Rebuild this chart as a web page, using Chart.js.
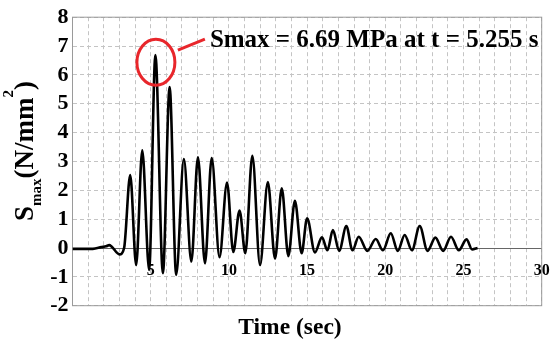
<!DOCTYPE html>
<html>
<head>
<meta charset="utf-8">
<script src="https://cdn.jsdelivr.net/npm/chart.js@4.4.1/dist/chart.umd.min.js"></script>
<style>
  html, body { margin: 0; padding: 0; background: #fff; }
  #wrap { width: 550px; height: 347px; position: relative; }
</style>
</head>
<body>
<div id="wrap"><canvas id="c"></canvas></div>
<script>
// Stress time history, peaks and troughs
const times = [
  0, 1.3, 1.85, 2.15, 2.35, 2.5, 3.0, 3.3,
  3.69, 4.07, 4.46, 4.9, 5.3, 5.78, 6.21, 6.63, 7.12, 7.6, 8.02, 8.47,
  8.9, 9.4, 9.88, 10.28, 10.68, 11.05, 11.5, 11.99, 12.49, 12.95, 13.38, 13.8,
  14.22, 14.65, 15.0, 15.5, 15.95, 16.3, 16.65, 17.05, 17.51, 17.9, 18.3, 18.85,
  19.39, 19.85, 20.35, 20.8, 21.24, 21.7, 22.2, 22.7, 23.2, 23.7, 24.2, 24.7,
  25.19, 25.55, 25.9
];
const stress = [
  -0.03, -0.03, 0.03, 0.06, 0.1, 0.05, -0.22, 0,
  2.53, -0.59, 3.39, -0.76, 6.69, -0.87, 5.58, -0.93, 3.08, -0.47, 3.14, -0.53,
  3.12, -0.32, 2.27, -0.14, 1.3, -0.18, 3.2, -0.59, 2.29, -0.37, 2.07, -0.28,
  1.64, -0.18, 1.03, -0.15, 0.37, -0.08, 0.62, -0.1, 0.76, -0.08, 0.39, -0.1,
  0.31, -0.08, 0.51, -0.1, 0.45, -0.08, 0.76, -0.1, 0.36, -0.1, 0.39, -0.08,
  0.3, -0.05, 0
];
const xTickLabels = [5, 10, 15, 20, 25, 30];
const peakTime = 5.3;
const peakValue = 6.69;
const noteText = 'Smax = 6.69 MPa at t = 5.255 s';

const SERIF = '"Liberation Serif", "Times New Roman", serif';

// frame, axis titles and the red call-out
const decorations = {
  id: 'decorations',
  beforeDatasetsDraw(chart) {
    const { ctx, chartArea: a } = chart;
    ctx.save();
    ctx.strokeStyle = '#9a9a9a';
    ctx.lineWidth = 1;
    ctx.strokeRect(a.left, a.top, a.right - a.left, a.bottom - a.top);
    ctx.restore();
  },
  afterDatasetsDraw(chart) {
    const { ctx, scales } = chart;
    const x = scales.x, y = scales.y;
    ctx.save();

    // red ring round the peak
    const cx = x.getPixelForValue(peakTime) + 0.5;
    const cy = y.getPixelForValue(peakValue - 0.25);
    ctx.strokeStyle = '#e8262b';
    ctx.lineWidth = 3;
    ctx.beginPath();
    ctx.ellipse(cx, cy, 19, 23, 0, 0, Math.PI * 2);
    ctx.stroke();
    ctx.beginPath();
    ctx.moveTo(cx + 22, cy - 12);
    ctx.lineTo(cx + 49, cy - 23);
    ctx.stroke();

    ctx.fillStyle = '#000';
    ctx.font = `bold 25px ${SERIF}`;
    ctx.textBaseline = 'alphabetic';
    ctx.textAlign = 'left';
    ctx.fillText(noteText, cx + 54, cy - 15);

    // x title
    ctx.font = `bold 23.5px ${SERIF}`;
    ctx.textAlign = 'center';
    ctx.fillText('Time (sec)', 290, 334);

    // y title, rotated, with sub and superscript
    ctx.translate(33, 221);
    ctx.rotate(-Math.PI / 2);
    ctx.textAlign = 'left';
    const big = `bold 27px ${SERIF}`, small = `bold 15px ${SERIF}`;
    const parts = [['S', big, 0], ['max', small, 8], ['(N/mm', big, 0], ['2', small, -20], [')', big, 0]];
    let px = 0;
    parts.forEach(([t, f, dy]) => {
      ctx.font = f;
      ctx.fillText(t, px, dy);
      px += ctx.measureText(t).width;
    });
    ctx.restore();
  }
};

new Chart(document.getElementById('c'), {
  type: 'line',
  data: {
    datasets: [{
      data: times.map((t, i) => ({ x: t, y: stress[i] })),
      borderColor: '#000',
      borderWidth: 2.6,
      pointRadius: 0,
      fill: false,
      cubicInterpolationMode: 'monotone'
    }]
  },
  options: {
    responsive: true,
    maintainAspectRatio: false,
    animation: false,
    layout: { padding: { top: 17, right: 8.3, bottom: 41.3, left: 0 } },
    plugins: { legend: { display: false }, tooltip: { enabled: false } },
    scales: {
      x: {
        type: 'linear',
        min: 0, max: 30,
        position: { y: 0 },
        afterFit: s => { s.paddingLeft = 0; s.paddingRight = 0; },
        grid: { color: '#c4c4c4', lineWidth: 1, drawTicks: false },
        border: { color: '#666', width: 1, dash: [4, 3] },
        ticks: {
          stepSize: 1,
          autoSkip: false,
          maxRotation: 0,
          padding: 13,
          color: '#000',
          font: { family: SERIF, weight: 'bold', size: 16 },
          callback: v => xTickLabels.includes(v) ? String(v) : ''
        }
      },
      y: {
        min: -2, max: 8,
        afterFit: s => { s.width = 72.5; },
        grid: { color: '#c4c4c4', lineWidth: 1, drawTicks: false },
        border: { color: '#9a9a9a', width: 1, dash: [4, 3] },
        ticks: {
          stepSize: 1,
          autoSkip: false,
          padding: 4,
          color: '#000',
          font: { family: SERIF, weight: 'bold', size: 22 }
        }
      }
    }
  },
  plugins: [decorations]
});
</script>
</body>
</html>
